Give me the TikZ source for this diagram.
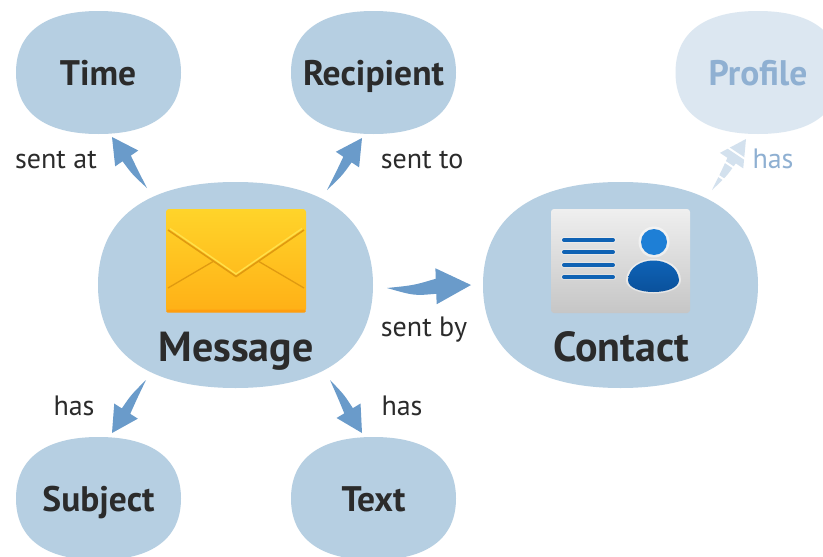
\documentclass[tikz,border=0pt]{standalone}
\usepackage{fontspec}
\setmainfont{PT Sans}
\usetikzlibrary{calc}
\definecolor{blobblue}{HTML}{B6CFE2}
\definecolor{blobfade}{HTML}{DCE7F1}
\definecolor{arrowblue}{HTML}{6A9BCA}
\definecolor{arrowfade}{HTML}{D3E1EE}
\definecolor{inkdark}{HTML}{2B2B2B}
\definecolor{inkfade}{HTML}{8FB0D2}
\definecolor{cardblue}{HTML}{0F62B4}
\definecolor{envtop}{HTML}{FFD42A}
\definecolor{envbot}{HTML}{FFB016}
\definecolor{envedge}{HTML}{FF9E0F}
\definecolor{envline}{HTML}{E09A10}
\definecolor{envlight}{HTML}{FFE04A}
\definecolor{cardtop}{HTML}{EFEFEF}
\definecolor{cardbot}{HTML}{C6C6C6}
\definecolor{headblue}{HTML}{1E7FD6}
\definecolor{bodytop}{HTML}{0F66BC}
\definecolor{bodybot}{HTML}{0A4F98}
\tikzset{
  bigname/.style={font=\fontsize{42}{45}\selectfont\bfseries,text=inkdark,inner sep=0pt,anchor=base},
  smallname/.style={font=\fontsize{35.5}{38}\selectfont\bfseries,text=inkdark,inner sep=0pt,anchor=base},
  edgelabel/.style={font=\fontsize{28}{31}\selectfont,text=inkdark,inner sep=0pt,anchor=base},
}
% cx cy rx ry colour
\newcommand{\blobshape}[5]{%
  \pgfmathsetmacro{\kx}{0.65*#3}\pgfmathsetmacro{\ky}{0.65*#4}%
  \fill[#5] ({#1+#3},#2)
    .. controls ({#1+#3},{#2+\ky}) and ({#1+\kx},{#2+#4}) .. (#1,{#2+#4})
    .. controls ({#1-\kx},{#2+#4}) and ({#1-#3},{#2+\ky}) .. ({#1-#3},#2)
    .. controls ({#1-#3},{#2-\ky}) and ({#1-\kx},{#2-#4}) .. (#1,{#2-#4})
    .. controls ({#1+\kx},{#2-#4}) and ({#1+#3},{#2-\ky}) .. ({#1+#3},#2) -- cycle;}
% colour, tail, tip, head length, head half width, shaft half width, bulge
\newcommand{\swoosh}[7]{%
  \pgfmathsetmacro{\ca}{0.7*#6+#7}\pgfmathsetmacro{\cb}{#7-0.7*#6}%
  \coordinate (neck) at ($(#3)!#4pt!(#2)$);
  \fill[#1] (#2)
    .. controls ($(#2)!.55!(neck)!\ca pt!90:(#3)$) .. ($(neck)!#6pt!90:(#3)$)
    -- ($(neck)!#5pt!90:(#3)$) -- (#3) -- ($(neck)!-#5pt!90:(#3)$)
    -- ($(neck)!-#6pt!90:(#3)$)
    .. controls ($(#2)!.55!(neck)!\cb pt!90:(#3)$) .. (#2) -- cycle;}
\begin{document}
\begin{tikzpicture}[x=1pt,y=-1pt]
\useasboundingbox (0,0) rectangle (823,557);
\clip (0,0) rectangle (823,557);
\fill[white] (0,0) rectangle (823,557);
% blobs
\blobshape{98.5}{72.5}{82.5}{61.5}{blobblue}
\blobshape{373.5}{72.5}{82.5}{61.5}{blobblue}
\blobshape{758}{72.5}{82.5}{61.5}{blobfade}
\blobshape{235.5}{285}{137.5}{103}{blobblue}
\blobshape{620.5}{285}{137.5}{103}{blobblue}
\blobshape{98.5}{498.5}{82.5}{61.5}{blobblue}
\blobshape{373.5}{498.5}{82.5}{61.5}{blobblue}
% envelope icon
\shade[top color=envtop,bottom color=envbot,rounded corners=3pt]
  (166,209) rectangle (306,312);
\fill[envedge,rounded corners=1.5pt] (166,309.5) rectangle (306,312.5);
\draw[envline,line width=1.3pt] (168,288) -- (214,261);
\draw[envline,line width=1.3pt] (304,288) -- (258,261);
\draw[envline,line width=1.6pt] (168,230) -- (236,276.5) -- (304,230);
\draw[envlight,line width=1.4pt] (170,228.5) -- (236,274) -- (302,228.5);
% card icon
\shade[top color=cardtop,bottom color=cardbot,rounded corners=3pt]
  (551,209) rectangle (690,313);
\foreach \yy in {240,252,265,277}{
  \draw[white,line width=6.5pt,line cap=round,opacity=.3] (564,\yy) -- (613,\yy);
  \draw[cardblue,line width=4pt,line cap=round] (564,\yy) -- (613,\yy);}
\fill[white,opacity=.5] (654,242) circle (15.5);
\fill[headblue] (654,242) circle (13);
\fill[white,opacity=.5] (626,280) .. controls (628,252) and (680,252) .. (681,280)
   .. controls (681,298) and (626,298) .. (626,280) -- cycle;
\shade[top color=bodytop,bottom color=bodybot] (628,280) .. controls (630,254) and (677,254) .. (679,280)
   .. controls (679,296) and (628,296) .. (628,280) -- cycle;
% nodes
\node[smallname] (time) at (98,85) {Time};
\node[smallname] (recipient) at (373.5,85) {Recipient};
\node[smallname,text=inkfade] (profile) at (758,85) {Profile};
\node[bigname] (message) at (236,361) {Message};
\node[bigname] (contact) at (621,361) {Contact};
\node[smallname] (subject) at (98.5,511) {Subject};
\node[smallname] (text) at (373.5,511) {Text};
% labels
\node[edgelabel] (lsentat) at (56,168) {sent at};
\node[edgelabel] (lsentto) at (422,168) {sent to};
\node[edgelabel,text=inkfade] (lhasp) at (773,168) {has};
\node[edgelabel] (lsentby) at (424,336) {sent by};
\node[edgelabel] (lhasl) at (74,415) {has};
\node[edgelabel] (lhasr) at (402,415) {has};
% connector ends
\coordinate (mT) at (147,188); \coordinate (tT) at (112,137);
\coordinate (mR) at (327,190); \coordinate (tR) at (362,138);
\coordinate (cP) at (712,190); \coordinate (tP) at (746,139);
\coordinate (mC) at (387,288); \coordinate (tC) at (471,285);
\coordinate (mS) at (146,380); \coordinate (tS) at (112,433);
\coordinate (mX) at (330,380); \coordinate (tX) at (362,433);
% connectors
\swoosh{arrowblue}{mT}{tT}{26}{14}{5}{1}
\swoosh{arrowblue}{mR}{tR}{26}{14}{5}{-1}
\swoosh{arrowfade}{cP}{tP}{26}{14}{5}{-1}
\swoosh{arrowblue}{mC}{tC}{35}{18}{7.5}{-3.5}
\swoosh{arrowblue}{mS}{tS}{26}{14}{5}{-1}
\swoosh{arrowblue}{mX}{tX}{26}{14}{5}{1}
\foreach \t in {.25,.5,.72}{
  \draw[white,line width=2pt] ($(cP)!\t!(tP)!16pt!90:(tP)$) -- ($(cP)!\t!(tP)!-16pt!90:(tP)$);}
\end{tikzpicture}
\end{document}
